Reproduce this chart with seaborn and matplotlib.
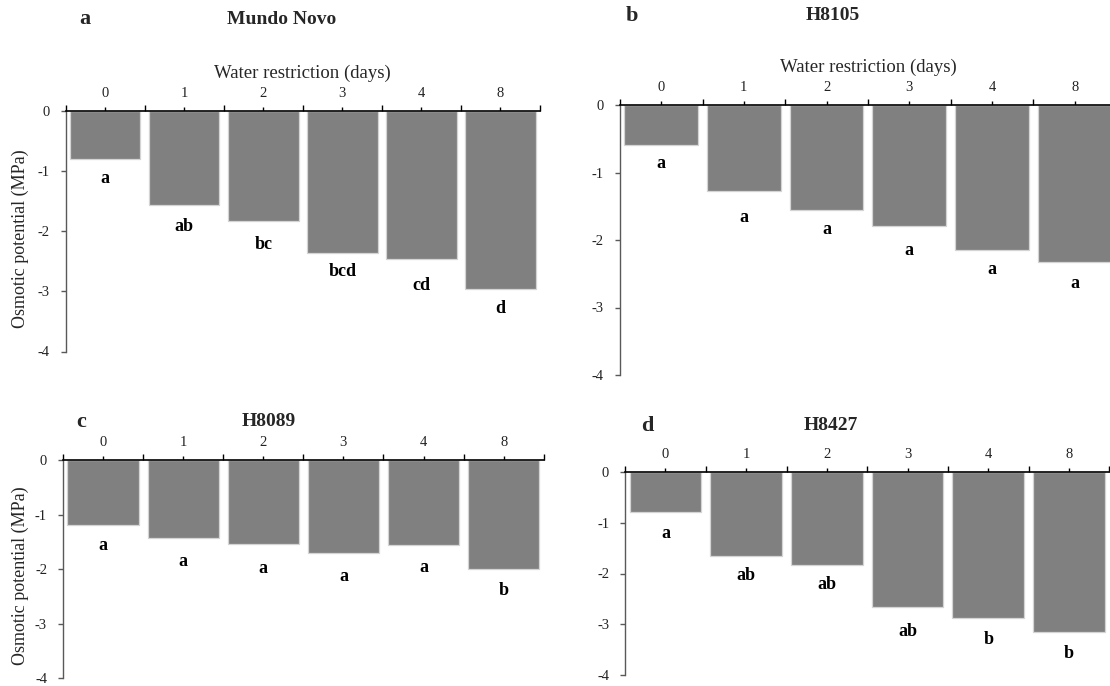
import matplotlib
matplotlib.use("Agg")
import matplotlib.pyplot as plt
import seaborn as sns
import pandas as pd

# ---------------- data ----------------
days = ['0', '1', '2', '3', '4', '8']

mundo_novo = [-0.81, -1.57, -1.83, -2.37, -2.47, -2.97]
mundo_novo_letters = ['a', 'ab', 'bc', 'bcd', 'cd', 'd']
mundo_novo_label_y = [-1.12, -1.93, -2.23, -2.67, -2.90, -3.29]

h8105 = [-0.59, -1.28, -1.55, -1.79, -2.15, -2.32]
h8105_letters = ['a', 'a', 'a', 'a', 'a', 'a']
h8105_label_y = [-0.87, -1.66, -1.85, -2.15, -2.43, -2.64]

h8089 = [-1.18, -1.43, -1.53, -1.70, -1.55, -2.00]
h8089_letters = ['a', 'a', 'a', 'a', 'a', 'b']
h8089_label_y = [-1.57, -1.86, -1.98, -2.14, -1.96, -2.38]

h8427 = [-0.80, -1.65, -1.83, -2.66, -2.88, -3.14]
h8427_letters = ['a', 'ab', 'ab', 'ab', 'b', 'b']
h8427_label_y = [-1.21, -2.04, -2.21, -3.14, -3.29, -3.58]

y_ticks = [0, -1, -2, -3, -4]
x_title = 'Water restriction (days)'
y_title = 'Osmotic potential (MPa)'

# ---------------- style ----------------
sns.set_style('white')
plt.rcParams['font.family'] = ['Liberation Serif', 'DejaVu Serif']
plt.rcParams['axes.unicode_minus'] = False

W, H = 1110, 686
fig = plt.figure(figsize=(W / 100, H / 100), dpi=100)


def px_axes(x0, x1, y0, y1):
    # x0,x1 left/right pixels; y0 pixel of value 0 (top), y1 pixel of -4 (bottom)
    return fig.add_axes([x0 / W, 1 - y1 / H, (x1 - x0) / W, (y1 - y0) / H])


panels = [
    dict(box=(65.7, 540.0, 110.7, 351.5), vals=mundo_novo, letters=mundo_novo_letters,
         ly=mundo_novo_label_y, tag='a', name='Mundo Novo', tagpos=(85, 19), namepos=(282, 19),
         xlabel=True, ylabel=True),
    dict(box=(619.8, 1116.0, 105.0, 375.0), vals=h8105, letters=h8105_letters,
         ly=h8105_label_y, tag='b', name='H8105', tagpos=(632, 16), namepos=(833, 16),
         xlabel=True, ylabel=False),
    dict(box=(63.0, 543.7, 460.3, 678.3), vals=h8089, letters=h8089_letters,
         ly=h8089_label_y, tag='c', name='H8089', tagpos=(81, 422), namepos=(269, 422),
         xlabel=False, ylabel=True),
    dict(box=(625.1, 1109.3, 471.7, 675.3), vals=h8427, letters=h8427_letters,
         ly=h8427_label_y, tag='d', name='H8427', tagpos=(647, 426), namepos=(831, 426),
         xlabel=False, ylabel=False),
]

for p in panels:
    x0, x1, y0, y1 = p['box']
    ax = px_axes(x0, x1, y0, y1)
    df = pd.DataFrame({'day': days, 'value': p['vals']})
    sns.barplot(data=df, x='day', y='value', order=days, color='#808080', saturation=1,
                width=0.89, edgecolor='#d4d4d4', linewidth=0.9, errorbar=None, ax=ax)
    ax.set_xlim(-0.5, 5.5)
    ax.set_ylim(-4, 0)

    for i, (lab, yy) in enumerate(zip(p['letters'], p['ly'])):
        ax.text(i, yy, lab, ha='center', va='center', fontsize=13, fontweight='bold',
                color='black')

    # spines
    for s in ['bottom', 'right']:
        ax.spines[s].set_visible(False)
    ax.spines['top'].set_color('black')
    ax.spines['top'].set_linewidth(1.2)
    ax.spines['left'].set_color('#595959')
    ax.spines['left'].set_linewidth(1.0)

    # x axis on top
    ax.set_xticks(range(len(days)))
    ax.set_xticklabels(days)
    ax.set_xticks([i - 0.5 for i in range(len(days) + 1)], minor=True)
    ax.tick_params(axis='x', which='both', top=True, bottom=False, labeltop=True,
                   labelbottom=False, direction='out', color='black', width=1.0)
    ax.tick_params(axis='x', which='major', length=3, pad=5, labelsize=10.5, labelcolor='#222222')
    ax.tick_params(axis='x', which='minor', length=4)

    ax.set_yticks(y_ticks)
    ax.set_yticklabels([str(v) for v in y_ticks])
    ax.tick_params(axis='y', which='major', left=True, direction='out', length=3.5,
                   width=1.0, color='#595959', pad=8, labelsize=10.5, labelcolor='#222222')

    axh = y1 - y0
    axw = x1 - x0
    if p['xlabel']:
        ax.set_xlabel(x_title, fontsize=13.5)
        ax.xaxis.set_label_position('top')
        ax.xaxis.set_label_coords(0.5, 1 + 37.5 / axh)
        ax.xaxis.label.set_va('center')
    else:
        ax.set_xlabel('')
    if p['ylabel']:
        ax.set_ylabel(y_title, fontsize=13)
        ax.yaxis.set_label_coords((20 - x0) / axw, 0.47)
        ax.yaxis.label.set_va('center')
    else:
        ax.set_ylabel('')

    tx, ty = p['tagpos']
    fig.text(tx / W, 1 - ty / H, p['tag'], ha='center', va='center', fontsize=16,
             fontweight='bold')
    nx, ny = p['namepos']
    fig.text(nx / W, 1 - ny / H, p['name'], ha='center', va='center', fontsize=14,
             fontweight='bold')

fig.savefig('out.png', dpi=100)
